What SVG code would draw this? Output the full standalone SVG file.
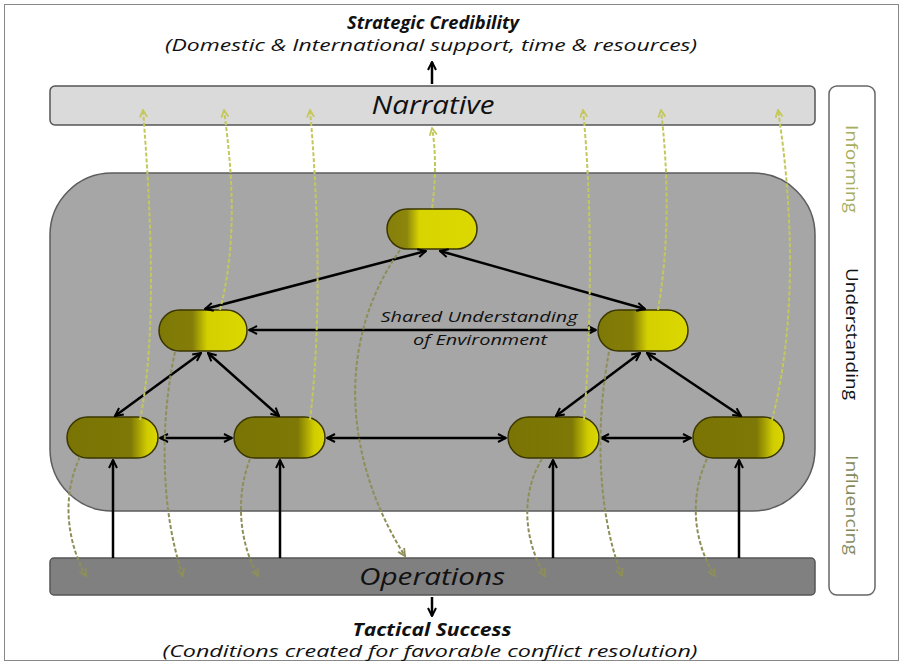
<svg xmlns="http://www.w3.org/2000/svg" width="903" height="665" viewBox="0 0 903 665">
<defs>
<style>
.t{font-family:"Open Sans","Liberation Sans",sans-serif;font-style:italic;fill:#111}
.b{font-weight:bold}
.bar{stroke:#555;stroke-width:1.5}
.pill{stroke:#3a3600;stroke-width:1.5}
.k{stroke:#000;stroke-width:2.5;fill:none}
.up{stroke:#c4c85a;stroke-width:2;stroke-dasharray:4 2;fill:none}
.dn{stroke:#8e8f58;stroke-width:2;stroke-dasharray:4 2;fill:none}
.side{font-family:"Open Sans","Liberation Sans",sans-serif;font-size:17px}
</style>
<marker id="ah" viewBox="0 0 10 10" refX="9" refY="5" markerWidth="10" markerHeight="10" markerUnits="userSpaceOnUse" orient="auto-start-reverse">
<path d="M1,1 L9,5 L1,9" fill="none" stroke="#000" stroke-width="2"/>
</marker>
<marker id="au" viewBox="0 0 10 10" refX="9" refY="5" markerWidth="9" markerHeight="9" markerUnits="userSpaceOnUse" orient="auto">
<path d="M1,1 L9,5 L1,9" fill="none" stroke="#c4c85a" stroke-width="2"/>
</marker>
<marker id="ad" viewBox="0 0 10 10" refX="9" refY="5" markerWidth="9" markerHeight="9" markerUnits="userSpaceOnUse" orient="auto">
<path d="M1,1 L9,5 L1,9" fill="none" stroke="#8e8f58" stroke-width="2"/>
</marker>
<linearGradient id="gTop" x1="0" x2="1" y1="0" y2="0">
<stop offset="0" stop-color="#857f0c"/><stop offset="0.22" stop-color="#8c860c"/><stop offset="0.36" stop-color="#d8d400"/><stop offset="1" stop-color="#dcd800"/>
</linearGradient>
<linearGradient id="gMid" x1="0" x2="1" y1="0" y2="0">
<stop offset="0" stop-color="#7e7806"/><stop offset="0.38" stop-color="#847e08"/><stop offset="0.55" stop-color="#d4d000"/><stop offset="1" stop-color="#dcd800"/>
</linearGradient>
<linearGradient id="gBot" x1="0" x2="1" y1="0" y2="0">
<stop offset="0" stop-color="#7a7404"/><stop offset="0.7" stop-color="#7e7806"/><stop offset="0.88" stop-color="#d0cc00"/><stop offset="1" stop-color="#dcd800"/>
</linearGradient>
</defs>
<rect x="0" y="0" width="903" height="665" fill="#fff"/>
<rect x="4.5" y="4.5" width="894" height="656" fill="none" stroke="#888" stroke-width="1"/>

<g id="top-label">
<text class="t b" x="433" y="29" font-size="17" text-anchor="middle" textLength="172" lengthAdjust="spacingAndGlyphs">Strategic Credibility</text>
<text class="t" x="431" y="51" font-size="17" text-anchor="middle" textLength="532" lengthAdjust="spacingAndGlyphs">(Domestic &amp; International support, time &amp; resources)</text>
</g>

<g id="narrative">
<rect class="bar" x="50" y="86" width="765" height="39" rx="5" fill="#dadada"/>
<text class="t" x="433" y="114" font-size="25" text-anchor="middle" textLength="123" lengthAdjust="spacingAndGlyphs">Narrative</text>
</g>

<g id="understanding-area">
<rect x="50" y="173" width="765" height="338" rx="62" fill="#a6a6a6" stroke="#5c5c5c" stroke-width="1.5"/>
<text class="t" x="479" y="322" font-size="15" text-anchor="middle" textLength="197" lengthAdjust="spacingAndGlyphs">Shared Understanding</text>
<text class="t" x="480" y="345" font-size="15" text-anchor="middle" textLength="134" lengthAdjust="spacingAndGlyphs">of Environment</text>
</g>

<g id="operations">
<rect class="bar" x="50" y="558" width="765" height="37" rx="4" fill="#808080"/>
<text class="t" x="432" y="585" font-size="24" text-anchor="middle" textLength="146" lengthAdjust="spacingAndGlyphs">Operations</text>
</g>

<g id="bottom-label">
<text class="t b" x="432" y="636" font-size="17" text-anchor="middle" textLength="159" lengthAdjust="spacingAndGlyphs">Tactical Success</text>
<text class="t" x="430" y="657" font-size="17" text-anchor="middle" textLength="535" lengthAdjust="spacingAndGlyphs">(Conditions created for favorable conflict resolution)</text>
</g>

<g id="side-panel">
<rect x="829" y="86" width="46" height="509" rx="8" fill="#fff" stroke="#666" stroke-width="1.5"/>
<text class="side" transform="translate(852,169) rotate(90)" text-anchor="middle" dominant-baseline="central" fill="#a9ae5e" textLength="88" lengthAdjust="spacingAndGlyphs">Informing</text>
<text class="side" transform="translate(852,334) rotate(90)" text-anchor="middle" dominant-baseline="central" fill="#111" textLength="132" lengthAdjust="spacingAndGlyphs">Understanding</text>
<text class="side" transform="translate(852,505) rotate(90)" text-anchor="middle" dominant-baseline="central" fill="#858a5c" textLength="100" lengthAdjust="spacingAndGlyphs">Influencing</text>
</g>

<g id="node-top"><rect class="pill" x="387" y="209" width="90" height="40" rx="20" fill="url(#gTop)"/></g>
<g id="node-mid-left"><rect class="pill" x="159" y="310" width="88" height="41" rx="20.5" fill="url(#gMid)"/></g>
<g id="node-mid-right"><rect class="pill" x="598" y="310" width="90" height="41" rx="20.5" fill="url(#gMid)"/></g>
<g id="node-b1"><rect class="pill" x="67" y="417" width="91" height="41" rx="20.5" fill="url(#gBot)"/></g>
<g id="node-b2"><rect class="pill" x="234" y="417" width="91" height="41" rx="20.5" fill="url(#gBot)"/></g>
<g id="node-b3"><rect class="pill" x="508" y="417" width="91" height="41" rx="20.5" fill="url(#gBot)"/></g>
<g id="node-b4"><rect class="pill" x="693" y="417" width="91" height="41" rx="20.5" fill="url(#gBot)"/></g>

<g id="connectors">
<line class="k" x1="432" y1="84" x2="432" y2="62" marker-end="url(#ah)"/>
<line class="k" x1="432" y1="597" x2="432" y2="616" marker-end="url(#ah)"/>
<line class="k" x1="205" y1="309" x2="426" y2="251" marker-start="url(#ah)" marker-end="url(#ah)"/>
<line class="k" x1="440" y1="251" x2="645" y2="309" marker-start="url(#ah)" marker-end="url(#ah)"/>
<line class="k" x1="249" y1="330" x2="596" y2="330" marker-start="url(#ah)" marker-end="url(#ah)"/>
<line class="k" x1="201" y1="353" x2="115" y2="416" marker-start="url(#ah)" marker-end="url(#ah)"/>
<line class="k" x1="208" y1="353" x2="279" y2="416" marker-start="url(#ah)" marker-end="url(#ah)"/>
<line class="k" x1="640" y1="353" x2="556" y2="416" marker-start="url(#ah)" marker-end="url(#ah)"/>
<line class="k" x1="647" y1="353" x2="741" y2="416" marker-start="url(#ah)" marker-end="url(#ah)"/>
<line class="k" x1="160" y1="438" x2="232" y2="438" marker-start="url(#ah)" marker-end="url(#ah)"/>
<line class="k" x1="327" y1="438" x2="506" y2="438" marker-start="url(#ah)" marker-end="url(#ah)"/>
<line class="k" x1="601" y1="438" x2="691" y2="438" marker-start="url(#ah)" marker-end="url(#ah)"/>
<line class="k" x1="113" y1="558" x2="113" y2="460" marker-end="url(#ah)"/>
<line class="k" x1="280" y1="558" x2="280" y2="460" marker-end="url(#ah)"/>
<line class="k" x1="553" y1="558" x2="553" y2="460" marker-end="url(#ah)"/>
<line class="k" x1="739" y1="558" x2="739" y2="460" marker-end="url(#ah)"/>

<path class="up" d="M140,420 C158,330 150,200 143,110" marker-end="url(#au)"/>
<path class="up" d="M220,310 C238,240 232,170 224,110" marker-end="url(#au)"/>
<path class="up" d="M310,420 C322,320 318,200 310,110" marker-end="url(#au)"/>
<path class="up" d="M432,208 C436,180 436,150 432,128" marker-end="url(#au)"/>
<path class="up" d="M584,420 C592,320 592,200 583,110" marker-end="url(#au)"/>
<path class="up" d="M658,310 C670,240 668,170 661,110" marker-end="url(#au)"/>
<path class="up" d="M772,420 C798,320 792,200 778,110" marker-end="url(#au)"/>

<path class="dn" d="M80,457 C62,495 66,540 86,576" marker-end="url(#ad)"/>
<path class="dn" d="M175,352 C160,420 160,510 183,576" marker-end="url(#ad)"/>
<path class="dn" d="M250,459 C236,495 238,540 258,576" marker-end="url(#ad)"/>
<path class="dn" d="M400,250 C330,350 350,470 405,556" marker-end="url(#ad)"/>
<path class="dn" d="M542,459 C520,495 524,540 545,576" marker-end="url(#ad)"/>
<path class="dn" d="M609,352 C596,420 596,510 622,576" marker-end="url(#ad)"/>
<path class="dn" d="M707,459 C690,495 692,540 715,576" marker-end="url(#ad)"/>
</g>
</svg>
